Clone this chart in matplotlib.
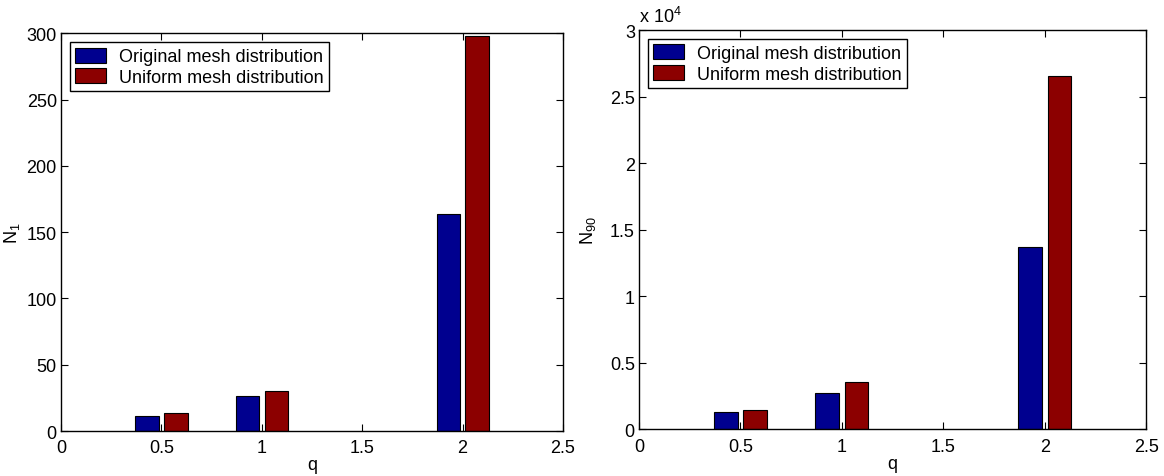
import matplotlib
matplotlib.use("Agg")
import matplotlib.pyplot as plt
from matplotlib.ticker import FuncFormatter
import numpy as np

# données
q = [0.5, 1, 2]
n1_original = [11.5, 26.6, 164]
n1_uniform = [13.8, 30.4, 298]
n90_original = [1350, 2750, 13670]
n90_uniform = [1500, 3600, 26550]
labels = ["Original mesh distribution", "Uniform mesh distribution"]

blue = "#00008F"
red = "#8C0000"

plt.rcParams["font.family"] = ["Liberation Sans", "DejaVu Sans"]
plt.rcParams["font.size"] = 13
plt.rcParams["mathtext.default"] = "regular"

fig = plt.figure(figsize=(11.64, 4.77), dpi=100)
ax1 = fig.add_axes([0.0524, 0.0943, 0.4313, 0.834])
ax2 = fig.add_axes([0.549, 0.0975, 0.4356, 0.8375])

w = 0.116
off = 0.072
x = np.array(q)


def draw(ax, a, b, ylim, yticks, ylabel, ylab_x):
    ax.bar(x - off, a, width=w, color=blue, edgecolor="black", linewidth=0.8, label=labels[0])
    ax.bar(x + off, b, width=w, color=red, edgecolor="black", linewidth=0.8, label=labels[1])
    ax.set_xlim(0, 2.5)
    ax.set_ylim(*ylim)
    ax.set_xticks([0, 0.5, 1, 1.5, 2, 2.5])
    ax.xaxis.set_major_formatter(FuncFormatter(lambda v, p: "%g" % v))
    ax.set_yticks(yticks)
    ax.tick_params(direction="in", top=True, right=True, length=5, width=0.8)
    ax.tick_params(axis="y", pad=3)
    ax.tick_params(axis="x", pad=6)
    ax.set_xlabel("q", labelpad=0)
    ax.set_ylabel(ylabel)
    ax.yaxis.set_label_coords(ylab_x, 0.5)
    for s in ax.spines.values():
        s.set_linewidth(1.0)
    leg = ax.legend(loc="upper left", fancybox=False, edgecolor="black", framealpha=1,
                    borderaxespad=0.5, handlelength=1.7, handleheight=0.9,
                    handletextpad=0.7, borderpad=0.3, labelspacing=0.15)
    leg.get_frame().set_linewidth(1.0)


draw(ax1, n1_original, n1_uniform, (0, 300), range(0, 301, 50), "$N_1$", -0.078)
draw(ax2, n90_original, n90_uniform, (0, 30000), range(0, 30001, 5000), "$N_{90}$", -0.08)
ax2.yaxis.set_major_formatter(FuncFormatter(lambda v, p: "%g" % (v / 1e4)))
ax2.text(0.0, 1.01, "x 10$^4$", transform=ax2.transAxes, ha="left", va="bottom")

fig.savefig("out.png", dpi=100)
